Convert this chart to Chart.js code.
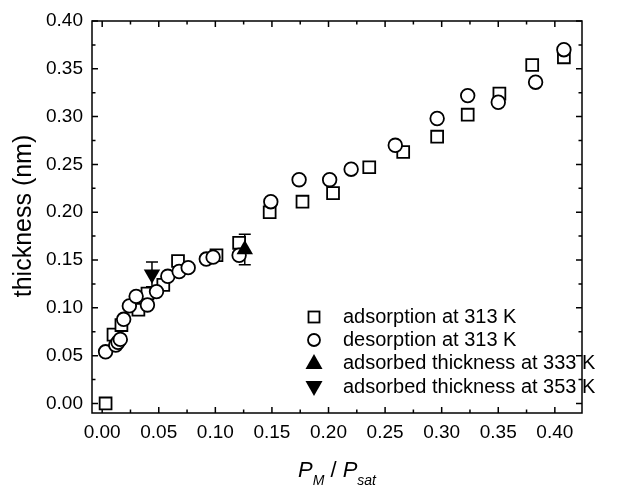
<!DOCTYPE html>
<html>
<head>
<meta charset="utf-8">
<script src="https://cdn.jsdelivr.net/npm/chart.js@4.4.1/dist/chart.umd.min.js"></script>
<style>
    html, body { margin: 0; padding: 0; background: #fff; }
    #wrap { width: 624px; height: 488px; }
</style>
</head>
<body>
<div id="wrap"><canvas id="thickness-chart" width="624" height="488"></canvas></div>
<script>
// adsorption at 313 K  (P_M / P_sat , thickness in nm)
const adsX = [0.003, 0.010, 0.017, 0.032, 0.040, 0.054, 0.067, 0.101, 0.121, 0.148, 0.177, 0.204, 0.236, 0.266, 0.296, 0.323, 0.351, 0.380, 0.408];
const adsY = [0.000, 0.072, 0.082, 0.098, 0.115, 0.124, 0.149, 0.155, 0.168, 0.200, 0.211, 0.220, 0.247, 0.263, 0.279, 0.302, 0.324, 0.354, 0.362];

// desorption at 313 K
const desX = [0.003, 0.012, 0.014, 0.016, 0.019, 0.024, 0.030, 0.040, 0.048, 0.058, 0.068, 0.076, 0.092, 0.098, 0.121, 0.149, 0.174, 0.201, 0.220, 0.259, 0.296, 0.323, 0.350, 0.383, 0.408];
const desY = [0.054, 0.061, 0.064, 0.067, 0.088, 0.102, 0.112, 0.103, 0.117, 0.133, 0.138, 0.142, 0.151, 0.153, 0.155, 0.211, 0.234, 0.234, 0.245, 0.270, 0.298, 0.322, 0.315, 0.336, 0.370];

// adsorbed thickness at 333 K and 353 K, with error
const x333 = [0.126];
const y333 = [0.161];
const err333 = [0.016];
const x353 = [0.044];
const y353 = [0.135];
const err353 = [0.013];

// axis ticks
const xTicks = [0.00, 0.05, 0.10, 0.15, 0.20, 0.25, 0.30, 0.35, 0.40];
const xMinor = [0.025, 0.075, 0.125, 0.175, 0.225, 0.275, 0.325, 0.375];
const yTicks = [0.00, 0.05, 0.10, 0.15, 0.20, 0.25, 0.30, 0.35, 0.40];
const yMinor = [0.025, 0.075, 0.125, 0.175, 0.225, 0.275, 0.325, 0.375];

const fontFamily = "'Liberation Sans', Arial, Helvetica, sans-serif";

function toPoints(xs, ys) {
    return xs.map((v, i) => ({ x: v, y: ys[i] }));
}

// frame, inward ticks and error bars
const framePlugin = {
    id: "frame",
    beforeDatasetsDraw(chart) {
        const { ctx, chartArea: a, scales: { x, y } } = chart;
        ctx.save();
        ctx.strokeStyle = "#000";
        ctx.lineWidth = 1.5;
        ctx.strokeRect(a.left, a.top, a.right - a.left, a.bottom - a.top);

        ctx.beginPath();
        const tick = (vals, len) => {
            vals.forEach(v => {
                const px = x.getPixelForValue(v);
                ctx.moveTo(px, a.bottom); ctx.lineTo(px, a.bottom - len);
                ctx.moveTo(px, a.top); ctx.lineTo(px, a.top + len);
            });
        };
        const tickY = (vals, len) => {
            vals.forEach(v => {
                const py = y.getPixelForValue(v);
                ctx.moveTo(a.left, py); ctx.lineTo(a.left + len, py);
                ctx.moveTo(a.right, py); ctx.lineTo(a.right - len, py);
            });
        };
        tick(xTicks, 6);
        tick(xMinor, 3.5);
        tickY(yTicks, 6);
        tickY(yMinor, 3.5);
        ctx.stroke();

        // error bars
        ctx.lineWidth = 1.5;
        [[x333, y333, err333], [x353, y353, err353]].forEach(([xs, ys, es]) => {
            xs.forEach((v, i) => {
                const px = x.getPixelForValue(v);
                const lo = y.getPixelForValue(ys[i] - es[i]);
                const hi = y.getPixelForValue(ys[i] + es[i]);
                ctx.beginPath();
                ctx.moveTo(px, lo); ctx.lineTo(px, hi);
                ctx.moveTo(px - 6, lo); ctx.lineTo(px + 6, lo);
                ctx.moveTo(px - 6, hi); ctx.lineTo(px + 6, hi);
                ctx.stroke();
            });
        });
        ctx.restore();
    },
    afterDraw(chart) {
        const { ctx } = chart;
        ctx.save();

        // legend
        const mx = 314, tx = 343;
        const rows = [317, 340, 363, 387];
        ctx.strokeStyle = "#000";
        ctx.fillStyle = "#000";
        ctx.lineWidth = 1.8;
        ctx.strokeRect(mx - 5.5, rows[0] - 5.5, 11, 11);
        ctx.beginPath();
        ctx.arc(mx, rows[1], 6, 0, Math.PI * 2);
        ctx.stroke();
        ctx.beginPath();
        ctx.moveTo(mx, rows[2] - 9); ctx.lineTo(mx + 8.5, rows[2] + 6); ctx.lineTo(mx - 8.5, rows[2] + 6);
        ctx.closePath(); ctx.fill();
        ctx.beginPath();
        ctx.moveTo(mx, rows[3] + 9); ctx.lineTo(mx + 8.5, rows[3] - 6); ctx.lineTo(mx - 8.5, rows[3] - 6);
        ctx.closePath(); ctx.fill();

        ctx.font = "20px " + fontFamily;
        ctx.textBaseline = "middle";
        ctx.textAlign = "left";
        chart.data.datasets.forEach((ds, i) => {
            ctx.fillText(ds.label, tx, rows[i]);
        });

        // x axis title: P_M / P_sat
        const big = "italic 22px " + fontFamily;
        const small = "italic 14px " + fontFamily;
        const parts = [
            { t: "P", f: big, dy: 0 },
            { t: "M", f: small, dy: 8 },
            { t: " / ", f: "22px " + fontFamily, dy: 0 },
            { t: "P", f: big, dy: 0 },
            { t: "sat", f: small, dy: 8 }
        ];
        let total = 0;
        parts.forEach(p => { ctx.font = p.f; p.w = ctx.measureText(p.t).width; total += p.w; });
        let cx = 337 - total / 2;
        const base = 477;
        ctx.textBaseline = "alphabetic";
        parts.forEach(p => {
            ctx.font = p.f;
            ctx.fillText(p.t, cx, base + p.dy);
            cx += p.w;
        });

        // y axis title
        ctx.translate(24, 216);
        ctx.rotate(-Math.PI / 2);
        ctx.font = "25px " + fontFamily;
        ctx.textAlign = "center";
        ctx.textBaseline = "middle";
        ctx.fillText("thickness (nm)", 0, 0);
        ctx.restore();
    }
};

const tickFont = { family: fontFamily, size: 19 };

new Chart(document.getElementById("thickness-chart").getContext("2d"), {
    type: "scatter",
    data: {
        datasets: [{
            label: "adsorption at 313 K",
            data: toPoints(adsX, adsY),
            pointStyle: "rect",
            pointRadius: 8.4,
            pointBorderWidth: 1.8,
            pointBorderColor: "#000",
            pointBackgroundColor: "#fff",
            order: 3
        }, {
            label: "desorption at 313 K",
            data: toPoints(desX, desY),
            pointStyle: "circle",
            pointRadius: 6.8,
            pointBorderWidth: 1.8,
            pointBorderColor: "#000",
            pointBackgroundColor: "#fff",
            order: 2
        }, {
            label: "adsorbed thickness at 333 K",
            data: toPoints(x333, y333),
            pointStyle: "triangle",
            pointRadius: 9.5,
            pointBorderWidth: 0,
            pointBorderColor: "#000",
            pointBackgroundColor: "#000",
            order: 1
        }, {
            label: "adsorbed thickness at 353 K",
            data: toPoints(x353, y353),
            pointStyle: "triangle",
            pointRotation: 180,
            pointRadius: 9.5,
            pointBorderWidth: 0,
            pointBorderColor: "#000",
            pointBackgroundColor: "#000",
            order: 0
        }]
    },
    options: {
        responsive: false,
        animation: false,
        events: [],
        layout: { padding: { left: 0, top: 21, right: 42, bottom: 0 } },
        plugins: {
            legend: { display: false },
            tooltip: { enabled: false }
        },
        scales: {
            x: {
                type: "linear",
                min: -0.009,
                max: 0.424,
                afterFit: s => { s.height = 75; },
                afterBuildTicks: s => { s.ticks = xTicks.map(v => ({ value: v })); },
                grid: { display: false, drawTicks: false },
                border: { display: false },
                ticks: {
                    padding: 8,
                    color: "#000",
                    font: tickFont,
                    maxRotation: 0,
                    autoSkip: false,
                    callback: v => v.toFixed(2)
                }
            },
            y: {
                type: "linear",
                min: -0.01,
                max: 0.40,
                afterFit: s => { s.width = 92; },
                afterBuildTicks: s => { s.ticks = yTicks.map(v => ({ value: v })); },
                grid: { display: false, drawTicks: false },
                border: { display: false },
                ticks: {
                    padding: 9,
                    color: "#000",
                    font: tickFont,
                    autoSkip: false,
                    callback: v => v.toFixed(2)
                }
            }
        }
    },
    plugins: [framePlugin]
});
</script>
</body>
</html>
